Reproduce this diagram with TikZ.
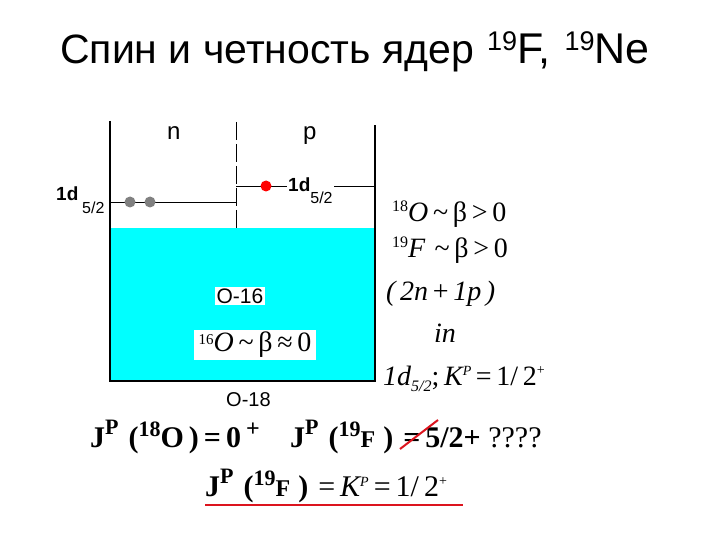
\documentclass[tikz,border=0pt]{standalone}
\usepackage{fontspec}
\setmainfont{Liberation Serif}
\newfontfamily\arial{Liberation Sans}
\newcommand\fs[1]{\fontsize{#1}{#1}\selectfont}
\newcommand\up[3]{\raisebox{#1}{\fs{#2}#3}}
\definecolor{aqua}{RGB}{0,255,255}
\definecolor{dotgray}{RGB}{128,128,128}
\definecolor{myred}{RGB}{220,20,30}
\tikzset{
  txt/.style={inner sep=0pt, anchor=base west},
  boxline/.style={line width=1.3pt},
  level/.style={line width=0.9pt},
  whitebox/.style={fill=white, inner sep=2pt},
}
\begin{document}
\begin{tikzpicture}[x=1pt,y=-1pt]
\useasboundingbox (0,0) rectangle (720,540);
% title
\node[txt] (title) at (60,64) {\arial\fs{41}Спин и четность ядер};
\node[txt] (title2) at (487,64) {\arial\fs{43}\up{13pt}{27}{19}F,\hspace{14pt}\up{13pt}{27}{19}Ne};
% well
\fill[aqua] (110,228) rectangle (375,381);
\draw[boxline] (110,121) -- (110,381) -- (375,381) -- (375,125);
\draw[level, dash pattern=on 18pt off 4pt] (236,122) -- (236,228);
\coordinate (nl0) at (110,202);
\coordinate (nl1) at (236,202);
\coordinate (pl0) at (236,186);
\coordinate (pl1) at (375,186);
\draw[level] (nl0) -- (nl1);
\draw[level] (pl0) -- (pl1);
\fill[dotgray] (130,202) circle (5.5);
\fill[dotgray] (150,202) circle (5.5);
\fill[red] (266,186) circle (5.5);
\node[txt] (n) at (167,140) {\arial\fs{24}n};
\node[txt] (p) at (303,140) {\arial\fs{24}p};
\node[txt] (ld) at (56,201) {\arial\fs{19}\bfseries 1d};
\node[txt] (ls) at (82,214) {\arial\fs{16}5/2};
\node[fill=white, inner sep=1pt, anchor=base west] (pd) at (287,192) {\arial\fs{19}\bfseries 1d\mdseries\raisebox{-12pt}{\fs{16}5/2}};
% inside boxes
\node[whitebox] (o16) at (240,296) {\arial\fs{21}O-16};
\node[whitebox, inner xsep=5pt] (o16b) at (255,345) {\up{7pt}{15}{16}\fs{28}\itshape O\upshape\,\textasciitilde\,β\,≈\,0};
\node[txt] (o18) at (226,406) {\arial\fs{20}O-18};
% right formulas
\node[txt] (f1) at (392,222) {\up{10pt}{16}{18}\fs{28}\itshape O\upshape\,\textasciitilde\,β\,>\,0};
\node[txt] (f2) at (392,258) {\up{10pt}{16}{19}\fs{28}\itshape F\upshape\,\,\textasciitilde\,β\,>\,0};
\node[txt] (f3) at (386,300) {\fs{28}\itshape (\,2n\,\upshape+\,\itshape 1p\,)};
\node[txt] (f4) at (434,342) {\fs{28}\itshape in};
\node[txt] (f5) at (383,385) {\fs{28}\itshape 1d\raisebox{-6pt}{\fs{16}5/2}\upshape;\,\itshape K\up{10pt}{14}{P}\,\upshape=\,1/\,2\up{11pt}{14}{+}};
% bottom formulas
\node[txt] (j1) at (90,447) {\bfseries\fs{30}J\up{13pt}{22}{P}\,\,(\up{11pt}{22}{18}O\,)\,=\,0\,\up{11pt}{24}{+}};
\node[txt] (j2) at (290,447) {\bfseries\fs{30}J\up{13pt}{22}{P}\,\,(\up{11pt}{22}{19}\fs{24}F\,\,\fs{30})\,\,=\,5/2+ \mdseries ????};
\node[txt] (j3) at (205,496) {\bfseries\fs{30}J\up{13pt}{22}{P}\,\,(\up{11pt}{22}{19}\fs{24}F\,\,\fs{30})\mdseries\itshape\,\,\upshape=\,\itshape K\up{10pt}{14}{P}\,\upshape=\,1/\,2\up{11pt}{14}{+}};
\coordinate (s0) at (400,449);
\coordinate (s1) at (438,420);
\draw[myred, line width=2pt] (s0) -- (s1);
\coordinate (u0) at (205,505);
\coordinate (u1) at (463,505);
\draw[myred, line width=2.5pt] (u0) -- (u1);
\end{tikzpicture}
\end{document}
